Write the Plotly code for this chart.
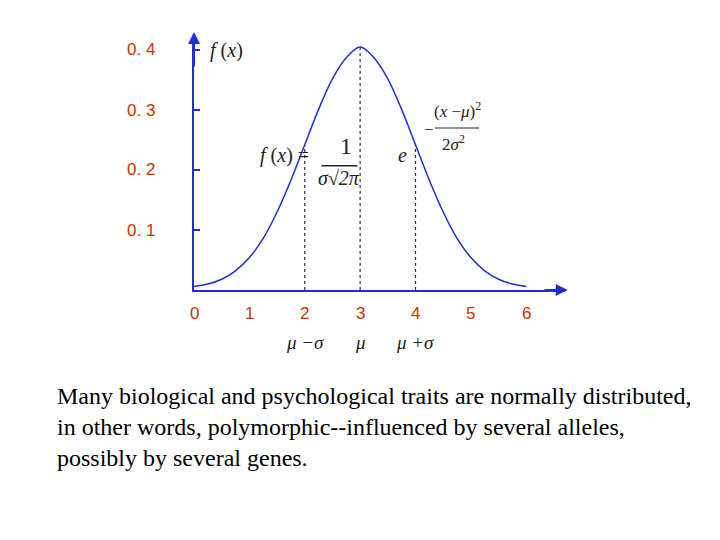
import plotly.graph_objects as go

xs = [0,0.25,0.5,0.75,1,1.25,1.5,1.75,2,2.25,2.5,2.75,3,3.25,3.5,3.75,4,4.25,4.5,4.75,5,5.25,5.5,5.75,6]
ys = [0.006,0.01,0.018,0.032,0.054,0.086,0.13,0.183,0.242,0.301,0.352,0.387,0.405,0.387,0.352,0.301,0.242,0.183,0.13,0.086,0.054,0.032,0.018,0.01,0.006]
ytick_vals = [0.1,0.2,0.3,0.4]
ytick_text = ["0. 1","0. 2","0. 3","0. 4"]
xtick_vals = [0,1,2,3,4,5,6]
sigma_x = [2,3,4]
sigma_y = [0.242,0.405,0.242]
sigma_lbl = ["μ −σ","μ","μ +σ"]

XMAX, YMAX = 6.7, 0.42
L, T, W, H = 194, 38, 371, 252  # target plot area in pixels
def px(x): return (x - L) / W
def py(y): return (T + H - y) / H

RED = "#cc3300"; BLUE = "#1f2fd0"
fig = go.Figure()
fig.add_trace(go.Scatter(x=xs, y=ys, mode="lines", line=dict(color=BLUE, width=1.5, shape="spline"), hoverinfo="skip"))
for x, y in zip(sigma_x, sigma_y):
    fig.add_trace(go.Scatter(x=[x, x], y=[0, y], mode="lines", line=dict(color="#333", width=1.2, dash="dot"), hoverinfo="skip"))

ann = []
for v, t in zip(ytick_vals, ytick_text):
    ann.append(dict(x=px(157), y=v / YMAX, xref="paper", yref="paper", text=t, showarrow=False, xanchor="right", yanchor="middle", font=dict(color=RED, size=17, family="Liberation Sans")))
for v in xtick_vals:
    ann.append(dict(x=v / XMAX, y=py(313), xref="paper", yref="paper", text=str(v), showarrow=False, xanchor="center", yanchor="middle", font=dict(color=RED, size=17, family="Liberation Sans")))
for x, t in zip(sigma_x, sigma_lbl):
    ann.append(dict(x=x / XMAX, y=py(342), xref="paper", yref="paper", text="<i>"+t+"</i>", showarrow=False, xanchor="center", yanchor="middle", font=dict(color="#222", size=19, family="Liberation Serif")))
ann.append(dict(x=6.75, y=0, ax=6.3, ay=0, xref="x", yref="y", axref="x", ayref="y", text="", showarrow=True, arrowhead=2, arrowsize=1.2, arrowwidth=2, arrowcolor=BLUE))
ann.append(dict(x=0, y=0.43, ax=0, ay=0.37, xref="x", yref="y", axref="x", ayref="y", text="", showarrow=True, arrowhead=2, arrowsize=1.2, arrowwidth=2, arrowcolor=BLUE))
F = dict(color="#222", size=20, family="Liberation Serif")
ann += [
    dict(x=0.25, y=0.4, xref="x", yref="y", text="<i>f</i> (<i>x</i>)", showarrow=False, xanchor="left", font=F),
    dict(x=1.15, y=0.225, xref="x", yref="y", text="<i>f</i> (<i>x</i>) =", showarrow=False, xanchor="left", font=F),
    dict(x=2.6, y=0.24, xref="x", yref="y", text="1", showarrow=False, xanchor="left", font=dict(color="#222", size=24, family="Liberation Serif")),
    dict(x=2.2, y=0.187, xref="x", yref="y", text="<i>σ</i>√<i>2π</i>", showarrow=False, xanchor="left", font=F),
    dict(x=3.65, y=0.225, xref="x", yref="y", text="<i>e</i>", showarrow=False, xanchor="left", font=F),
    dict(x=4.3, y=0.3, xref="x", yref="y", text="(<i>x</i> −<i>μ</i>)<sup>2</sup>", showarrow=False, xanchor="left", font=dict(color="#222", size=17, family="Liberation Serif")),
    dict(x=4.12, y=0.267, xref="x", yref="y", text="−", showarrow=False, xanchor="left", font=dict(color="#222", size=17, family="Liberation Serif")),
    dict(x=4.45, y=0.245, xref="x", yref="y", text="2<i>σ</i><sup>2</sup>", showarrow=False, xanchor="left", font=dict(color="#222", size=17, family="Liberation Serif")),
    dict(x=px(55), y=py(427), xref="paper", yref="paper", xanchor="left", yanchor="middle", showarrow=False, align="left",
         text="Many biological and psychological traits are normally distributed,<br>in other words, polymorphic--influenced by several alleles,<br>possibly by several genes.",
         font=dict(color="black", size=24, family="Liberation Serif")),
]
shapes = [
    dict(type="line", xref="x", yref="y", x0=2.3, x1=2.95, y0=0.207, y1=0.207, line=dict(color="#222", width=1.5)),
    dict(type="line", xref="x", yref="y", x0=4.35, x1=5.15, y0=0.27, y1=0.27, line=dict(color="#222", width=1.2)),
]
fig.update_layout(
    width=720, height=540, margin=dict(l=L-8, r=720-L-W+8, t=T-8, b=540-T-H+8), showlegend=False,
    plot_bgcolor="white", paper_bgcolor="white", annotations=ann, shapes=shapes,
    xaxis=dict(range=[0, XMAX], showgrid=False, zeroline=False, showline=True, linecolor=BLUE, linewidth=2,
               showticklabels=False, ticks="", fixedrange=True),
    yaxis=dict(range=[0, YMAX], showgrid=False, zeroline=False, showline=True, linecolor=BLUE, linewidth=2,
               tickvals=ytick_vals, ticks="inside", ticklen=6, tickcolor=BLUE, tickwidth=2, showticklabels=False),
)
fig.write_html("out.html")
